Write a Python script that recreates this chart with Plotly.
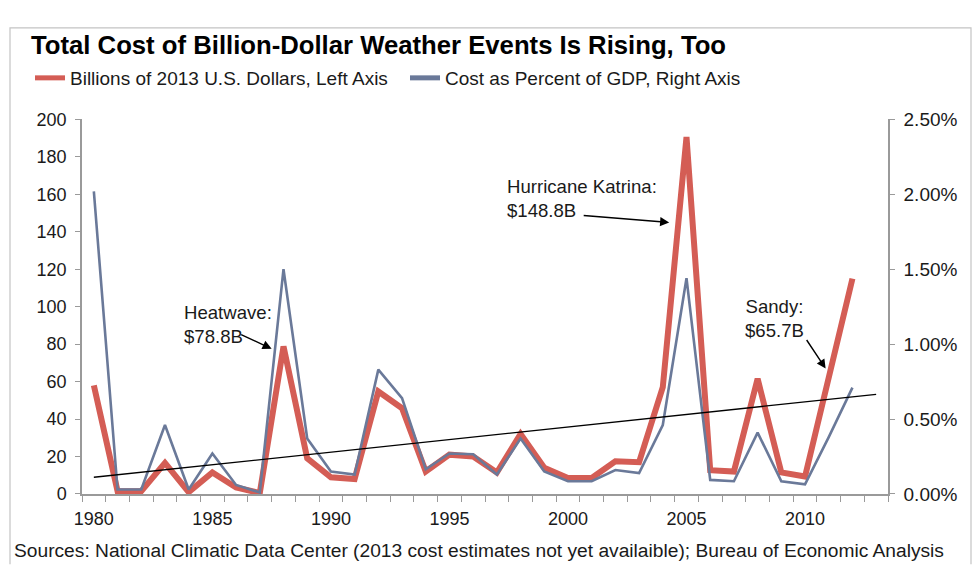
import numpy as np
import plotly.graph_objects as go

# ---- data ----
years = list(range(1980, 2013))
cost_billions = [58, 1.5, 1.5, 16.6, 1, 11.5, 3.5, 0.5, 78.8, 19, 8.9, 8, 54.7, 45.8,
                 12, 21, 20, 11.5, 32, 14, 8.6, 8.6, 17.5, 17, 57, 190.6, 12.7, 12,
                 61.5, 11.5, 9.3, 62, 115]
pct_gdp = [2.02, 0.03, 0.03, 0.46, 0.03, 0.27, 0.06, 0.01, 1.50, 0.37, 0.15, 0.13,
           0.83, 0.64, 0.165, 0.27, 0.265, 0.13, 0.37, 0.15, 0.085, 0.085, 0.16, 0.14,
           0.46, 1.44, 0.094, 0.085, 0.41, 0.085, 0.064, 0.38, 0.71]
x_tick_years = [1980, 1985, 1990, 1995, 2000, 2005, 2010]
left_ticks = list(range(0, 201, 20))
right_ticks = [0, 0.5, 1.0, 1.5, 2.0, 2.5]
right_tick_text = [f"{v:.2f}%" for v in right_ticks]

# linear trend (ordinary least squares), extended one year forward
slope, intercept = np.polyfit(years, cost_billions, 1)
trend_years = [1980, 2013]
trend_values = [slope * y + intercept for y in trend_years]

RED = "#d45d55"
BLUE = "#6a7999"
AX = "#9a9a9a"
TXT = "#1a1a1a"
FONT = "Liberation Sans, Arial, Helvetica, sans-serif"

fig = go.Figure()
fig.add_trace(go.Scatter(x=years, y=cost_billions, mode="lines",
                         name="Billions of 2013 U.S. Dollars, Left Axis",
                         line=dict(color=RED, width=6), yaxis="y"))
fig.add_trace(go.Scatter(x=years, y=pct_gdp, mode="lines",
                         name="Cost as Percent of GDP, Right Axis",
                         line=dict(color=BLUE, width=2.6), yaxis="y2"))
fig.add_trace(go.Scatter(x=trend_years, y=trend_values, mode="lines",
                         showlegend=False,
                         line=dict(color="black", width=1.3), yaxis="y3"))

W, H = 975, 567
L, R, T, B = 82, 87, 105, 73
pw, ph = W - L - R, H - T - B


def px(xp):
    return (xp - L) / pw


def py(yp):
    return (H - B - yp) / ph


fig.update_layout(
    width=W, height=H,
    margin=dict(l=L, r=R, t=T, b=B),
    paper_bgcolor="white", plot_bgcolor="white",
    font=dict(family=FONT, size=18, color=TXT),
    title=dict(text="<b>Total Cost of Billion-Dollar Weather Events Is Rising, Too</b>",
               font=dict(family=FONT, size=25.7, color="black"),
               x=31 / W, xanchor="left", xref="container",
               y=1 - 45 / H, yanchor="middle", yref="container"),
    legend=dict(orientation="h", x=30 / W, xref="container", xanchor="left",
                y=1 - 78 / H, yref="container", yanchor="middle",
                font=dict(size=19, color=TXT), bgcolor="rgba(0,0,0,0)",
                entrywidth=330, entrywidthmode="pixels",
                itemsizing="constant", traceorder="normal"),
    xaxis=dict(range=[1979.5, 2013.5], tickmode="array", tickvals=x_tick_years,
               ticks="", showgrid=False, zeroline=False,
               showline=True, linecolor=AX, linewidth=1.5,
               tickfont=dict(size=18, color=TXT), ticklabelstandoff=8,
               minor=dict(tick0=1979.5, dtick=1, ticks="outside", ticklen=6,
                          tickcolor=AX, showgrid=False)),
    yaxis=dict(range=[0, 200], tickmode="array", tickvals=left_ticks,
               ticks="outside", ticklen=5, tickcolor=AX, showgrid=False,
               zeroline=False, showline=True, linecolor=AX, linewidth=1.5,
               tickfont=dict(size=18, color=TXT), ticklabelstandoff=5),
    yaxis2=dict(range=[0, 2.5], overlaying="y", side="right", tickmode="array",
                tickvals=right_ticks, ticktext=right_tick_text,
                ticks="outside", ticklen=5, tickcolor=AX, showgrid=False,
                zeroline=False, showline=True, linecolor=AX, linewidth=1.5,
                tickfont=dict(size=19, color=TXT), ticklabelstandoff=5),
    yaxis3=dict(range=[0, 200], overlaying="y", visible=False),
)

# annotations (text + arrows)
ann_font = dict(family=FONT, size=18.6, color=TXT)
fig.add_annotation(x=px(182), y=py(318), xref="paper", yref="paper",
                   text="Heatwave:<br>$78.8B", showarrow=False, align="left",
                   xanchor="left", yanchor="middle", font=ann_font)
fig.add_annotation(x=1987.5, y=77.5, xref="x", yref="y", ax=-32, ay=-15,
                   text="", showarrow=True, arrowhead=2, arrowsize=1.3,
                   arrowwidth=1.4, arrowcolor="black", standoff=0)

fig.add_annotation(x=px(505), y=py(187), xref="paper", yref="paper",
                   text="Hurricane Katrina:<br>$148.8B", showarrow=False, align="left",
                   xanchor="left", yanchor="middle", font=ann_font)
fig.add_annotation(x=2004.27, y=145, xref="x", yref="y", ax=-87, ay=-7,
                   text="", showarrow=True, arrowhead=2, arrowsize=1.3,
                   arrowwidth=1.4, arrowcolor="black", standoff=0)

fig.add_annotation(x=px(774), y=py(312), xref="paper", yref="paper",
                   text="Sandy:<br>$65.7B", showarrow=False, align="center",
                   xanchor="center", yanchor="middle", font=ann_font)
fig.add_annotation(x=2010.87, y=67, xref="x", yref="y", ax=-20, ay=-30,
                   text="", showarrow=True, arrowhead=2, arrowsize=1.3,
                   arrowwidth=1.4, arrowcolor="black", standoff=0)

fig.add_annotation(x=px(12), y=py(553), xref="paper", yref="paper",
                   text="Sources: National Climatic Data Center (2013 cost estimates not yet availaible); Bureau of Economic Analysis",
                   showarrow=False, xanchor="left", yanchor="middle",
                   font=dict(family=FONT, size=19.2, color=TXT))

# outer frame (open at the bottom)
fig.add_shape(type="path", xref="paper", yref="paper",
              path=f"M {px(10)},{py(567)} L {px(10)},{py(10)} L {px(971)},{py(10)} L {px(971)},{py(567)}",
              line=dict(color="#c4c4c4", width=1.2))

fig.write_html("out.html")
